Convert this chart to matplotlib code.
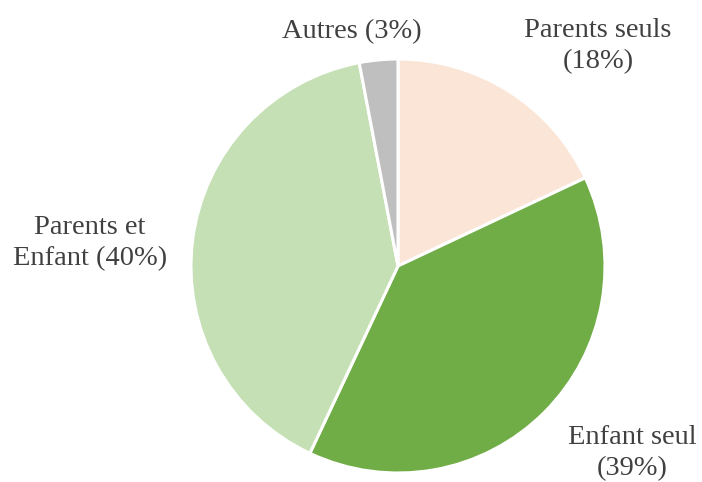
import matplotlib.pyplot as plt

labels = ["Parents seuls\n(18%)", "Enfant seul\n(39%)", "Parents et\nEnfant (40%)", "Autres (3%)"]
values = [18, 39, 40, 3]
colors = ["#FBE5D6", "#70AD47", "#C5E0B4", "#BFBFBF"]

# label anchor positions in pixels (x, y from top)
label_pos = [(598, 46), (632, 453), (90, 243), (352, 32)]

W, H = 702, 482
fig = plt.figure(figsize=(W / 100, H / 100), dpi=100)
ax = fig.add_axes([0, 0, 1, 1])
ax.set_xlim(0, W)
ax.set_ylim(0, H)
ax.set_aspect("equal")
ax.axis("off")

ax.pie(values, colors=colors, startangle=90, counterclock=False,
       center=(398, H - 266), radius=207,
       wedgeprops=dict(edgecolor="white", linewidth=2.2))
ax.set_xlim(0, W)
ax.set_ylim(0, H)

for lab, (x, y) in zip(labels, label_pos):
    ax.text(x, H - y, lab, ha="center", va="center", fontsize=20.5,
            family="Liberation Serif", color="#404040", linespacing=1.3)

fig.savefig("out.png", dpi=100)
